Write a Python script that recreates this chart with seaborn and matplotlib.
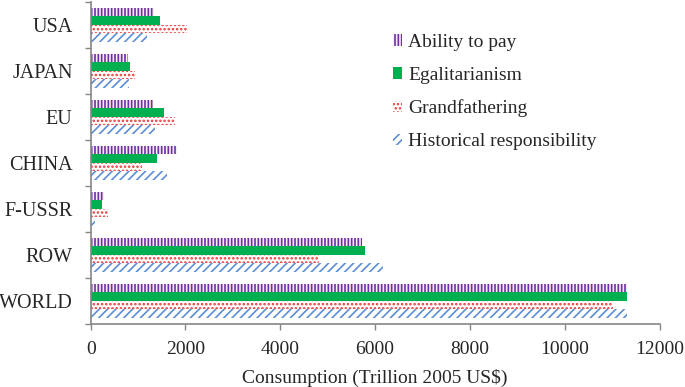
import numpy as np
import pandas as pd
import matplotlib
matplotlib.use("Agg")
import matplotlib.pyplot as plt
import seaborn as sns

regions = ['USA', 'JAPAN', 'EU', 'CHINA', 'F-USSR', 'ROW', 'WORLD']
schemes = ['Ability to pay', 'Egalitarianism', 'Grandfathering', 'Historical responsibility']

ability = [1335, 780, 1308, 1814, 280, 5730, 11308]
egalitarian = [1470, 830, 1546, 1400, 230, 5787, 11308]
grandfather = [2025, 935, 1772, 1082, 367, 4823, 11013]
historical = [1180, 815, 1363, 1610, 100, 6173, 11308]

df = pd.DataFrame({
    'region': regions * 4,
    'scheme': np.repeat(schemes, len(regions)),
    'value': ability + egalitarian + grandfather + historical,
})

sns.set_style('white')
plt.rcParams['font.family'] = ['Liberation Serif', 'DejaVu Serif']
plt.rcParams['hatch.linewidth'] = 1.2

fig = plt.figure(figsize=(6.85, 3.87), dpi=100)
ax = fig.add_axes([0.1324, 0.1628, 0.8304, 0.8328])

sns.barplot(data=df, y='region', x='value', hue='scheme', order=regions,
            hue_order=schemes, orient='h', width=0.74, legend=False, ax=ax,
            saturation=1)

# fill / hatch styles per scheme
styles = [
    dict(face='#f3eef8', edge='#7030a0', hatch='|||||'),
    dict(face='#00b050', edge='#00b050', hatch=None),
    dict(face='white', edge='#e8393a', hatch='....'),
    dict(face='white', edge='#5b8fd6', hatch='////'),
]
for cont, st in zip(ax.containers, styles):
    for p in cont.patches:
        p.set_facecolor(st['face'])
        p.set_edgecolor(st['edge'])
        p.set_linewidth(0)
        if st['hatch']:
            p.set_hatch(st['hatch'])

ax.set_xlim(0, 12000)
ax.set_xticks(np.arange(0, 12001, 2000))
ax.set_ylim(len(regions) - 0.5, -0.5)

# tick marks between categories, labels at the centres
ax.set_yticks(np.arange(-0.5, len(regions), 1.0))
ax.set_yticklabels([])
ax.set_yticks(np.arange(len(regions)), minor=True)
ax.set_yticklabels(regions, minor=True)
ax.tick_params(axis='y', which='minor', length=0, pad=13, labelsize=14.5)
ax.tick_params(axis='y', which='major', length=4, width=1, color='#868686', direction='out', left=True)
ax.tick_params(axis='x', length=4, width=1, color='#868686', direction='out', bottom=True,
               labelsize=14, pad=8)

for s in ['top', 'right']:
    ax.spines[s].set_visible(False)
for s in ['left', 'bottom']:
    ax.spines[s].set_color('#868686')
    ax.spines[s].set_linewidth(1.2)

ax.set_ylabel('')
ax.set_xlabel('Consumption (Trillion 2005 US$)', fontsize=14, labelpad=8)

handles = [c.patches[0] for c in ax.containers]
ax.legend(handles, schemes, loc='upper left', bbox_to_anchor=(0.50, 0.955),
          frameon=False, fontsize=14, handlelength=0.5, handleheight=0.55,
          handletextpad=0.3, labelspacing=0.82)

fig.savefig('out.png', dpi=100)
